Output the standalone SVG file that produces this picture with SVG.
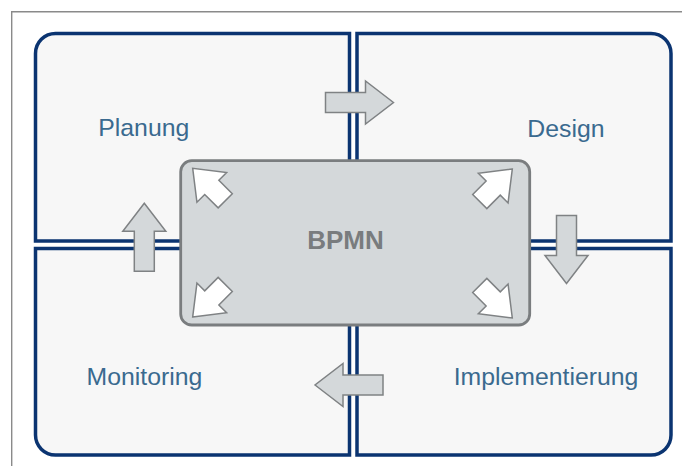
<svg xmlns="http://www.w3.org/2000/svg" width="682" height="466" viewBox="0 0 682 466">
<style>
.quad{fill:#f7f7f7;stroke:#0b3471;stroke-width:3.5}
.lbl{font-family:"Liberation Sans",Arial,sans-serif;font-size:24.8px;fill:#3a6a8f;text-anchor:middle}
.core{fill:#d4d8da;stroke:#7a7d7f;stroke-width:2.8}
.core-t{font-family:"Liberation Sans",Arial,sans-serif;font-size:26px;font-weight:bold;fill:#797c7e;text-anchor:middle}
.oarr{fill:#d4d8da;stroke:#7f8284;stroke-width:1.5;stroke-linejoin:miter}
.iarr{fill:#ffffff;stroke:#7f8284;stroke-width:1.5;stroke-linejoin:miter}
</style>
<defs>
<polygon id="longArrow" points="0,0 -28,-21.5 -28,-10 -68,-10 -68,10 -28,10 -28,21.5"/>
<polygon id="shortArrow" points="0,0 -27,-21 -27,-10 -46,-10 -46,10 -27,10 -27,21"/>
</defs>
<rect width="682" height="466" fill="#ffffff"/>
<path d="M11.7,466 V11.7 H682" fill="none" stroke="#8a8a8a" stroke-width="1.4"/>
<g id="planung">
<path class="quad" d="M35.5,241 V53.5 A20,20 0 0 1 55.5,33.5 H349.5 V241 Z"/>
<text class="lbl" x="143.8" y="136">Planung</text>
</g>
<g id="design">
<path class="quad" d="M357,33.5 H651 A20,20 0 0 1 671,53.5 V241 H357 Z"/>
<text class="lbl" x="565.9" y="136.5">Design</text>
</g>
<g id="monitoring">
<path class="quad" d="M35.5,248.5 H349.5 V455 H55.5 A20,20 0 0 1 35.5,435 Z"/>
<text class="lbl" x="144.5" y="385">Monitoring</text>
</g>
<g id="implementierung">
<path class="quad" d="M357,248.5 H671 V435 A20,20 0 0 1 651,455 H357 Z"/>
<text class="lbl" x="546" y="385">Implementierung</text>
</g>
<g id="bpmn">
<rect class="core" x="180.7" y="160.7" width="349" height="164.3" rx="11" ry="11"/>
<text class="core-t" x="345.5" y="249">BPMN</text>
<use href="#shortArrow" class="iarr" transform="translate(192.7,168.3) rotate(225)"/>
<use href="#shortArrow" class="iarr" transform="translate(512.3,169) rotate(-45)"/>
<use href="#shortArrow" class="iarr" transform="translate(512.3,318) rotate(45)"/>
<use href="#shortArrow" class="iarr" transform="translate(192.7,317) rotate(135)"/>
</g>
<g id="connectors">
<use href="#longArrow" class="oarr" transform="translate(393.5,102.5)"/>
<use href="#longArrow" class="oarr" transform="translate(566.5,283.5) rotate(90)"/>
<use href="#longArrow" class="oarr" transform="translate(315,385) rotate(180)"/>
<use href="#longArrow" class="oarr" transform="translate(144.3,203.3) rotate(-90)"/>
</g>
</svg>
